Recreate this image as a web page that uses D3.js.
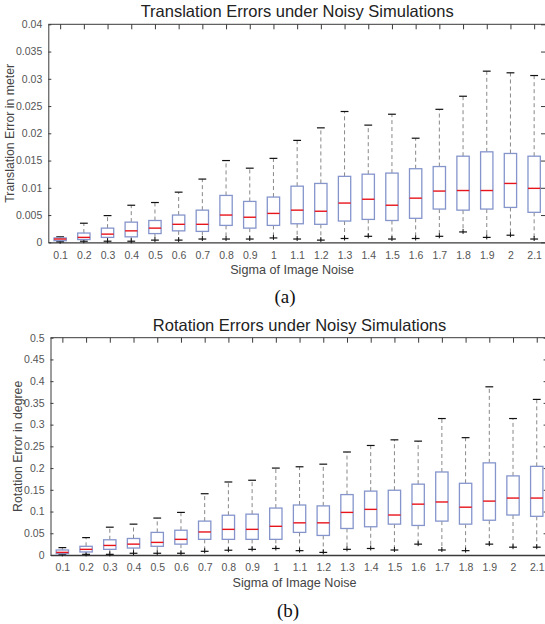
<!DOCTYPE html>
<html>
<head>
<meta charset="utf-8">
<script src="https://cdn.jsdelivr.net/npm/d3@7"></script>
<style>
  body { margin: 0; background: #fff; }
  svg { display: block; font-family: "Liberation Sans", Arial, sans-serif; }
</style>
</head>
<body>
<div id="chart"></div>
<script>
const sigmas = ["0.1","0.2","0.3","0.4","0.5","0.6","0.7","0.8","0.9","1","1.1","1.2","1.3","1.4","1.5","1.6","1.7","1.8","1.9","2","2.1"];

// translation error (meter)
const transLow = [0.0001,0.0002,0.0002,0.0002,0.0004,0.0004,0.0006,0.0006,0.0006,0.0008,0.0006,0.0004,0.0007,0.0011,0.0006,0.0007,0.0011,0.0019,0.0009,0.0013,0.0006];
const transQ1  = [0.0003,0.0005,0.0009,0.0010,0.0016,0.0021,0.0020,0.0031,0.0026,0.0031,0.0034,0.0033,0.0039,0.0042,0.0040,0.0044,0.0061,0.0059,0.0061,0.0064,0.0055];
const transMed = [0.0006,0.0009,0.0015,0.0021,0.0026,0.0033,0.0033,0.0050,0.0046,0.0053,0.0059,0.0057,0.0072,0.0079,0.0068,0.0081,0.0094,0.0095,0.0095,0.0108,0.0099];
const transQ3  = [0.0008,0.0017,0.0026,0.0037,0.0040,0.0050,0.0059,0.0086,0.0075,0.0083,0.0103,0.0108,0.0121,0.0125,0.0127,0.0135,0.0139,0.0158,0.0166,0.0163,0.0158];
const transHigh= [0.0010,0.0035,0.0049,0.0068,0.0073,0.0092,0.0116,0.0150,0.0136,0.0154,0.0187,0.0210,0.0240,0.0215,0.0235,0.0191,0.0244,0.0268,0.0314,0.0311,0.0306];
const transTicks = d3.range(0, 0.0401, 0.005);

// rotation error (degree)
const rotLow = [0.0015,0.0015,0.0015,0.004,0.004,0.004,0.0085,0.011,0.013,0.015,0.010,0.006,0.013,0.015,0.0115,0.025,0.0115,0.010,0.025,0.018,0.018];
const rotQ1  = [0.003,0.007,0.013,0.016,0.020,0.025,0.036,0.036,0.036,0.036,0.052,0.045,0.061,0.065,0.071,0.068,0.078,0.071,0.080,0.092,0.089];
const rotMed = [0.006,0.013,0.022,0.025,0.029,0.036,0.053,0.059,0.059,0.066,0.074,0.074,0.098,0.105,0.092,0.117,0.122,0.110,0.124,0.131,0.131];
const rotQ3  = [0.0115,0.020,0.035,0.038,0.052,0.057,0.078,0.0915,0.094,0.108,0.115,0.113,0.139,0.147,0.149,0.163,0.191,0.165,0.212,0.182,0.204];
const rotHigh= [0.017,0.040,0.064,0.071,0.085,0.098,0.141,0.168,0.172,0.200,0.203,0.209,0.237,0.252,0.265,0.262,0.314,0.270,0.387,0.314,0.358];
const rotTicks = d3.range(0, 0.5001, 0.05);

const W = 545, H = 624;
const svg = d3.select("#chart").append("svg").attr("width", W).attr("height", H);

const axisColor = "#3a3a3a";
const labelColor = "#555";

function boxPanel(cfg) {
  const x = d3.scaleLinear().domain([0.5, sigmas.length + 0.5]).range([cfg.left, cfg.right]);
  const y = d3.scaleLinear().domain(cfg.domain).range([cfg.bottom, cfg.top]);
  const g = svg.append("g");
  const step = x(2) - x(1);
  const bw = step * 0.52;
  const cw = step * 0.33;

  // title
  g.append("text").attr("x", (cfg.left + cfg.right) / 2).attr("y", cfg.top - 7)
    .attr("text-anchor", "middle").attr("font-size", 16.5).attr("fill", "#222").text(cfg.title);

  // top frame line
  g.append("line").attr("x1", cfg.left).attr("x2", cfg.right).attr("y1", cfg.top).attr("y2", cfg.top)
    .attr("stroke", axisColor).attr("stroke-width", 1);

  // left axis
  const yAxis = d3.axisLeft(y).tickValues(cfg.ticks).tickSizeInner(-3).tickSizeOuter(0).tickPadding(6)
    .tickFormat(d => d3.format("~g")(+d.toFixed(4)));
  const ga = g.append("g").attr("transform", `translate(${cfg.left},0)`).call(yAxis);
  ga.select(".domain").attr("stroke", axisColor);
  ga.selectAll(".tick line").attr("stroke", axisColor);
  ga.selectAll(".tick text").attr("fill", labelColor).attr("font-size", 10.5);

  // right axis ticks (inward)
  const gr = g.append("g").attr("transform", `translate(${cfg.right},0)`)
    .call(d3.axisRight(y).tickValues(cfg.ticks).tickSizeInner(-5).tickSizeOuter(0).tickFormat(""));
  gr.selectAll(".tick line").attr("stroke", axisColor);
  gr.select(".domain").attr("stroke", axisColor);

  // top axis ticks (inward)
  const gt = g.append("g").attr("transform", `translate(0,${cfg.top})`)
    .call(d3.axisTop(x).tickValues(d3.range(1, sigmas.length + 1)).tickSizeInner(-5).tickSizeOuter(0).tickFormat(""));
  gt.selectAll(".tick line").attr("stroke", axisColor);
  gt.select(".domain").remove();

  // bottom axis with labels
  const gb = g.append("g").attr("transform", `translate(0,${cfg.bottom})`)
    .call(d3.axisBottom(x).tickValues(d3.range(1, sigmas.length + 1)).tickSize(0).tickPadding(9)
      .tickFormat(d => sigmas[d - 1]));
  gb.select(".domain").attr("stroke", axisColor).attr("stroke-width", 1.3);
  gb.selectAll(".tick text").attr("fill", labelColor).attr("font-size", 10.5);

  // axis labels
  g.append("text").attr("x", (cfg.left + cfg.right) / 2 - 5).attr("y", cfg.bottom + 32)
    .attr("text-anchor", "middle").attr("font-size", 12.6).attr("fill", "#444").text("Sigma of Image Noise");
  g.append("text").attr("transform", `translate(${cfg.ylabX},${(cfg.top + cfg.bottom) / 2}) rotate(-90)`)
    .attr("text-anchor", "middle").attr("font-size", 12.3).attr("fill", "#444").text(cfg.ylabel);

  const idx = d3.range(sigmas.length);
  const boxes = g.append("g").selectAll("g").data(idx).join("g")
    .attr("transform", i => `translate(${x(i + 1)},0)`);

  // whiskers
  boxes.append("line").attr("y1", i => y(cfg.q3[i])).attr("y2", i => y(cfg.high[i]))
    .attr("stroke", "#888").attr("stroke-dasharray", "4,3");
  boxes.append("line").attr("y1", i => y(cfg.q1[i])).attr("y2", i => y(cfg.low[i]))
    .attr("stroke", "#888").attr("stroke-dasharray", "4,3");
  // caps
  boxes.append("line").attr("x1", -cw / 2).attr("x2", cw / 2)
    .attr("y1", i => y(cfg.high[i])).attr("y2", i => y(cfg.high[i]))
    .attr("stroke", "#111").attr("stroke-width", 1.2);
  boxes.append("line").attr("x1", -cw / 2).attr("x2", cw / 2)
    .attr("y1", i => y(cfg.low[i])).attr("y2", i => y(cfg.low[i]))
    .attr("stroke", "#111").attr("stroke-width", 1.2);
  boxes.append("line").attr("y1", i => y(cfg.low[i]) - 3).attr("y2", i => y(cfg.low[i]) + 2)
    .attr("stroke", "#111").attr("stroke-width", 1);
  // box
  boxes.append("rect").attr("x", -bw / 2).attr("width", bw)
    .attr("y", i => y(cfg.q3[i])).attr("height", i => y(cfg.q1[i]) - y(cfg.q3[i]))
    .attr("fill", "#fff").attr("stroke", "#8595cc").attr("stroke-width", 1.3);
  // median
  boxes.append("line").attr("x1", -bw / 2).attr("x2", bw / 2)
    .attr("y1", i => y(cfg.med[i])).attr("y2", i => y(cfg.med[i]))
    .attr("stroke", "#e8141c").attr("stroke-width", 1.4);

  // panel label
  svg.append("text").attr("x", cfg.tagX).attr("y", cfg.tagY).attr("text-anchor", "middle")
    .attr("font-family", "'Liberation Serif', 'Times New Roman', serif").attr("font-size", 19)
    .attr("fill", "#111").text(cfg.tag);
}

boxPanel({
  title: "Translation Errors under Noisy Simulations",
  ylabel: "Translation Error in meter",
  left: 48.3, right: 546, top: 24.3, bottom: 242.3, ylabX: 14,
  domain: [0, 0.04], ticks: transTicks,
  low: transLow, q1: transQ1, med: transMed, q3: transQ3, high: transHigh,
  tag: "(a)", tagX: 285, tagY: 303
});

boxPanel({
  title: "Rotation Errors under Noisy Simulations",
  ylabel: "Rotation Error in degree",
  left: 50.5, right: 548.6, top: 337.7, bottom: 555, ylabX: 22,
  domain: [0, 0.5], ticks: rotTicks,
  low: rotLow, q1: rotQ1, med: rotMed, q3: rotQ3, high: rotHigh,
  tag: "(b)", tagX: 288, tagY: 617
});
</script>
</body>
</html>
